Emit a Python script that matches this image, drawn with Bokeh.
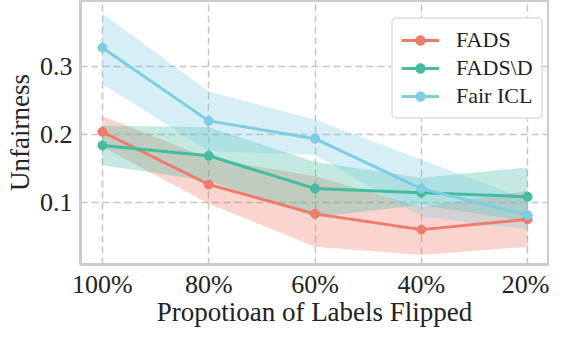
from bokeh.plotting import figure
from bokeh.models import Legend, FixedTicker, Range1d
from bokeh.embed import file_html
from bokeh.resources import INLINE

x_labels = ["100%", "80%", "60%", "40%", "20%"]
x_pos = [0, 1, 2, 3, 4]

fads = [0.204, 0.127, 0.084, 0.061, 0.076]
fads_lo = [0.182, 0.099, 0.036, 0.024, 0.036]
fads_hi = [0.227, 0.165, 0.139, 0.094, 0.118]

fadsd = [0.184, 0.169, 0.121, 0.115, 0.109]
fadsd_lo = [0.155, 0.132, 0.079, 0.097, 0.073]
fadsd_hi = [0.213, 0.211, 0.160, 0.137, 0.152]

ficl = [0.327, 0.220, 0.194, 0.121, 0.082]
ficl_lo = [0.274, 0.176, 0.170, 0.080, 0.061]
ficl_hi = [0.377, 0.263, 0.222, 0.163, 0.105]

series = [
    ("FADS", fads, fads_lo, fads_hi, "#EE7B6B"),
    ("FADS\\D", fadsd, fadsd_lo, fadsd_hi, "#45BC9F"),
    ("Fair ICL", ficl, ficl_lo, ficl_hi, "#7ECDE3"),
]

FONT = "Liberation Serif"
TXT = "#222222"

p = figure(width=549, height=329, output_backend="svg", toolbar_location=None,
           x_range=Range1d(-0.206, 4.196), y_range=Range1d(0.010, 0.396),
           min_border_left=80, min_border_right=1, min_border_top=0, min_border_bottom=0)

p.outline_line_color = "#cccccc"
p.outline_line_width = 3
p.background_fill_color = "white"

for name, ys, lo, hi, col in series:
    p.varea(x=x_pos, y1=lo, y2=hi, fill_color=col, fill_alpha=0.32)

items = []
for name, ys, lo, hi, col in series:
    l = p.line(x_pos, ys, line_color=col, line_width=3)
    c = p.scatter(x_pos, ys, size=9, fill_color=col, line_color=col)
    items.append((name, [l, c]))

p.xaxis.ticker = FixedTicker(ticks=x_pos)
p.xaxis.major_label_overrides = {i: s for i, s in zip(x_pos, x_labels)}
p.yaxis.ticker = FixedTicker(ticks=[0.1, 0.2, 0.3])

for ax in (p.xaxis, p.yaxis):
    ax.axis_line_color = None
    ax.major_tick_line_color = None
    ax.minor_tick_line_color = None
    ax.major_tick_out = 0
    ax.major_tick_in = 0
    ax.major_label_text_font = FONT
    ax.major_label_text_font_size = "26px"
    ax.major_label_text_color = TXT
    ax.axis_label_text_font = FONT
    ax.axis_label_text_font_size = "27px"
    ax.axis_label_text_font_style = "normal"
    ax.axis_label_text_color = TXT

p.xaxis.axis_label = "Propotioan of Labels Flipped"
p.yaxis.axis_label = "Unfairness"
p.xaxis.major_label_standoff = 5
p.xaxis.axis_label_standoff = -5
p.yaxis.major_label_standoff = 8
p.yaxis.axis_label_standoff = 2

for g in (p.xgrid, p.ygrid):
    g.grid_line_color = "#c4c4c4"
    g.grid_line_width = 1.5
    g.grid_line_dash = "7 4"

legend = Legend(items=items, location=(311, 145))
legend.label_text_font = FONT
legend.label_text_font_size = "22px"
legend.label_text_color = TXT
legend.glyph_width = 38
legend.glyph_height = 24
legend.label_standoff = 17
legend.spacing = 2
legend.padding = 8
legend.margin = 0
legend.border_line_color = "#cccccc"
legend.border_line_width = 2
legend.background_fill_alpha = 1.0
if "border_radius" in Legend.properties():
    legend.border_radius = 5
p.add_layout(legend)

open("out.html", "w").write(file_html(p, INLINE))
